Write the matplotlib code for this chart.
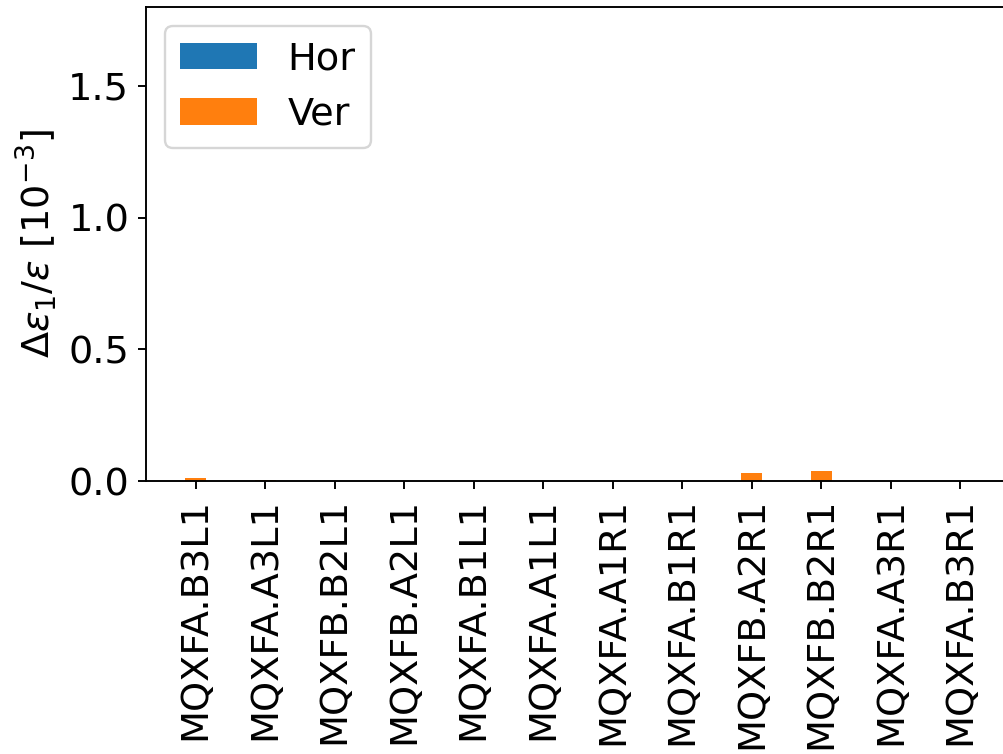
import numpy as np
import matplotlib
matplotlib.use("Agg")
import matplotlib.pyplot as plt

magnets = ["MQXFA.B3L1", "MQXFA.A3L1", "MQXFB.B2L1", "MQXFB.A2L1",
           "MQXFA.B1L1", "MQXFA.A1L1", "MQXFA.A1R1", "MQXFA.B1R1",
           "MQXFB.A2R1", "MQXFB.B2R1", "MQXFA.A3R1", "MQXFA.B3R1"]
hor = [0.001, 0.001, 0.001, 0.001, 0.001, 0.0, 0.0, 0.0, 0.0, 0.0, 0.0, 0.0]
ver = [0.009, 0.003, 0.0, 0.0, 0.0, 0.0, 0.0, 0.0, 0.03, 0.038, 0.0, 0.0]

plt.rcParams["font.size"] = 16
plt.rcParams["mathtext.fontset"] = "dejavusans"

dpi = 172
fig = plt.figure(figsize=(1003 / dpi, 754 / dpi), dpi=dpi)
ax = fig.add_axes([146 / 1003, 1 - 481 / 754, (1010 - 146) / 1003, (481 - 7) / 754])

x = np.arange(len(magnets))
ax.bar(x, hor, width=0.3, label="Hor", color="tab:blue")
ax.bar(x, ver, width=0.3, bottom=hor, label="Ver", color="tab:orange")

ax.set_xticks(x)
ax.set_xticklabels(magnets, rotation=90)
ax.set_ylim(0, 1.8)
ax.set_yticks([0.0, 0.5, 1.0, 1.5])
ax.set_ylabel(r"$\Delta\varepsilon_1/\varepsilon$ [$10^{-3}$]")
ax.legend(loc="upper left")

fig.savefig("out.png", dpi=dpi)
